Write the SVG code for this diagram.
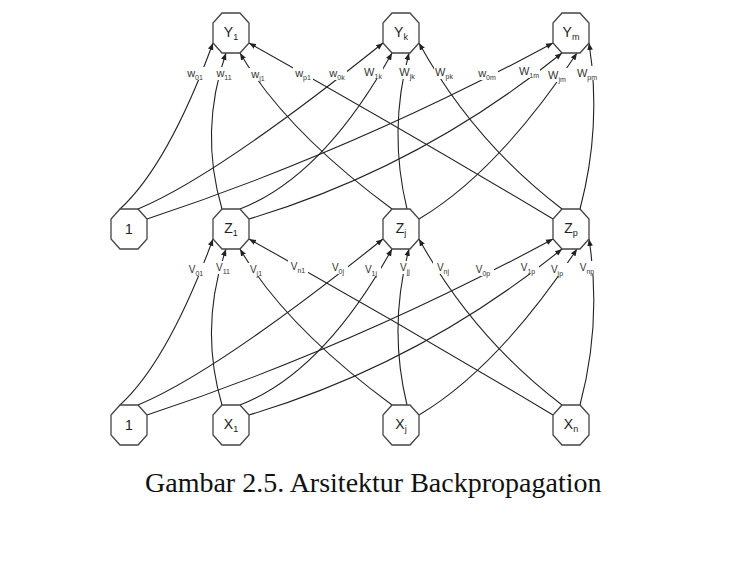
<svg xmlns="http://www.w3.org/2000/svg" xmlns:xlink="http://www.w3.org/1999/xlink" width="737" height="576" viewBox="0 0 737 576">
<style>
.node{fill:#fff;stroke:#444;stroke-width:1.3}
.nl{font-family:"Liberation Sans",Arial,sans-serif;font-size:14px;fill:#222;text-anchor:middle}
.ns{font-size:9px}
.edge{fill:none;stroke:#222;stroke-width:1.1;marker-end:url(#arr)}
.lb{fill:#fff}
.wl{font-family:"Liberation Sans",Arial,sans-serif;font-size:11px;fill:#333;text-anchor:middle}
.vl{font-family:"Liberation Sans",Arial,sans-serif;font-size:10px;fill:#333;text-anchor:middle}
.s{font-size:7px}
.cap{font-family:"Liberation Serif","Times New Roman",serif;font-size:28px;fill:#111}
</style>
<defs>
<marker id="arr" viewBox="0 0 10 10" refX="10" refY="5" markerWidth="7" markerHeight="7" markerUnits="userSpaceOnUse" orient="auto">
<path d="M0,1 L10,5 L0,9 z" fill="#222"/>
</marker>
<polygon id="oct" points="-9,-20 9,-20 18,-10 18,10 9,20 -9,20 -18,10 -18,-10"/>
</defs>
<rect width="737" height="576" fill="#fff"/>

<g id="connectors">
<g id="hidden-to-output">
<path class="edge" d="M120,209 Q168,165 213,43"/>
<path class="edge" d="M222,209 Q199,131 226,53"/>
<path class="edge" d="M392,209 Q285,130 240,53"/>
<path class="edge" d="M553,219 Q401,128 249,43"/>
<path class="edge" d="M138,209 Q217,176 383,43"/>
<path class="edge" d="M240,209 Q323,177 392,53"/>
<path class="edge" d="M407,209 Q388,131 409,53"/>
<path class="edge" d="M562,209 Q473,141 419,43"/>
<path class="edge" d="M147,219 Q355,150 553,43"/>
<path class="edge" d="M249,219 Q420,168 562,53"/>
<path class="edge" d="M419,219 Q498,172 577,53"/>
<path class="edge" d="M580,209 Q602,126 589,43"/>
</g>
<g id="input-to-hidden" transform="translate(0,196)">
<path class="edge" d="M120,209 Q168,165 213,43"/>
<path class="edge" d="M222,209 Q199,131 226,53"/>
<path class="edge" d="M392,209 Q285,130 240,53"/>
<path class="edge" d="M553,219 Q401,128 249,43"/>
<path class="edge" d="M138,209 Q217,176 383,43"/>
<path class="edge" d="M240,209 Q323,177 392,53"/>
<path class="edge" d="M407,209 Q388,131 409,53"/>
<path class="edge" d="M562,209 Q473,141 419,43"/>
<path class="edge" d="M147,219 Q355,150 553,43"/>
<path class="edge" d="M249,219 Q420,168 562,53"/>
<path class="edge" d="M419,219 Q498,172 577,53"/>
<path class="edge" d="M580,209 Q602,126 589,43"/>
</g>
</g>

<g id="weight-labels">
<rect class="lb" x="186" y="67" width="19" height="13"/><text class="wl" x="195" y="77">w<tspan class="s" dy="3">01</tspan></text>
<rect class="lb" x="215" y="67" width="19" height="13"/><text class="wl" x="224" y="77">w<tspan class="s" dy="3">11</tspan></text>
<rect class="lb" x="249" y="68" width="19" height="13"/><text class="wl" x="258" y="78">w<tspan class="s" dy="3">j1</tspan></text>
<rect class="lb" x="293" y="67" width="20" height="13"/><text class="wl" x="303" y="77">w<tspan class="s" dy="3">p1</tspan></text>
<rect class="lb" x="327" y="67" width="20" height="13"/><text class="wl" x="337" y="77">w<tspan class="s" dy="3">0k</tspan></text>
<rect class="lb" x="363" y="65" width="20" height="14"/><text class="wl" x="373" y="76">W<tspan class="s" dy="3">1k</tspan></text>
<rect class="lb" x="397" y="65" width="20" height="14"/><text class="wl" x="407" y="76">W<tspan class="s" dy="3">jk</tspan></text>
<rect class="lb" x="434" y="65" width="21" height="14"/><text class="wl" x="444" y="76">W<tspan class="s" dy="3">pk</tspan></text>
<rect class="lb" x="476" y="67" width="22" height="13"/><text class="wl" x="487" y="77">w<tspan class="s" dy="3">0m</tspan></text>
<rect class="lb" x="518" y="64" width="22" height="14"/><text class="wl" x="529" y="75">W<tspan class="s" dy="3">1m</tspan></text>
<rect class="lb" x="546" y="68" width="22" height="14"/><text class="wl" x="557" y="79">W<tspan class="s" dy="3">jm</tspan></text>
<rect class="lb" x="576" y="66" width="22" height="14"/><text class="wl" x="587" y="77">W<tspan class="s" dy="3">pm</tspan></text>

<rect class="lb" x="187" y="263" width="19" height="13"/><text class="vl" x="196" y="273">V<tspan class="s" dy="3">01</tspan></text>
<rect class="lb" x="214" y="261" width="19" height="13"/><text class="vl" x="223" y="271">V<tspan class="s" dy="3">11</tspan></text>
<rect class="lb" x="247" y="263" width="19" height="13"/><text class="vl" x="256" y="273">V<tspan class="s" dy="3">j1</tspan></text>
<rect class="lb" x="288" y="260" width="20" height="13"/><text class="vl" x="298" y="270">V<tspan class="s" dy="3">n1</tspan></text>
<rect class="lb" x="328" y="261" width="20" height="13"/><text class="vl" x="338" y="271">V<tspan class="s" dy="3">0j</tspan></text>
<rect class="lb" x="361" y="263" width="20" height="13"/><text class="vl" x="371" y="273">V<tspan class="s" dy="3">1j</tspan></text>
<rect class="lb" x="395" y="261" width="20" height="13"/><text class="vl" x="405" y="271">V<tspan class="s" dy="3">jj</tspan></text>
<rect class="lb" x="433" y="261" width="20" height="13"/><text class="vl" x="443" y="271">V<tspan class="s" dy="3">nj</tspan></text>
<rect class="lb" x="473" y="263" width="21" height="13"/><text class="vl" x="483" y="273">V<tspan class="s" dy="3">0p</tspan></text>
<rect class="lb" x="518" y="261" width="21" height="13"/><text class="vl" x="528" y="271">V<tspan class="s" dy="3">1p</tspan></text>
<rect class="lb" x="547" y="263" width="21" height="13"/><text class="vl" x="557" y="273">V<tspan class="s" dy="3">jp</tspan></text>
<rect class="lb" x="577" y="261" width="21" height="13"/><text class="vl" x="587" y="271">V<tspan class="s" dy="3">np</tspan></text>
</g>

<g id="Y1" transform="translate(231,33)"><use xlink:href="#oct" class="node"/><text class="nl" x="0" y="4">Y<tspan class="ns" dy="3">1</tspan></text></g>
<g id="Yk" transform="translate(401,33)"><use xlink:href="#oct" class="node"/><text class="nl" x="0" y="4">Y<tspan class="ns" dy="3">k</tspan></text></g>
<g id="Ym" transform="translate(571,33)"><use xlink:href="#oct" class="node"/><text class="nl" x="0" y="4">Y<tspan class="ns" dy="3">m</tspan></text></g>

<g id="H0" transform="translate(129,229)"><use xlink:href="#oct" class="node"/><text class="nl" x="0" y="5">1</text></g>
<g id="Z1" transform="translate(231,229)"><use xlink:href="#oct" class="node"/><text class="nl" x="0" y="4">Z<tspan class="ns" dy="3">1</tspan></text></g>
<g id="Zj" transform="translate(401,229)"><use xlink:href="#oct" class="node"/><text class="nl" x="0" y="4">Z<tspan class="ns" dy="3">j</tspan></text></g>
<g id="Zp" transform="translate(571,229)"><use xlink:href="#oct" class="node"/><text class="nl" x="0" y="4">Z<tspan class="ns" dy="3">p</tspan></text></g>

<g id="X0" transform="translate(129,425)"><use xlink:href="#oct" class="node"/><text class="nl" x="0" y="5">1</text></g>
<g id="X1" transform="translate(231,425)"><use xlink:href="#oct" class="node"/><text class="nl" x="0" y="4">X<tspan class="ns" dy="3">1</tspan></text></g>
<g id="Xj" transform="translate(401,425)"><use xlink:href="#oct" class="node"/><text class="nl" x="0" y="4">X<tspan class="ns" dy="3">j</tspan></text></g>
<g id="Xn" transform="translate(571,425)"><use xlink:href="#oct" class="node"/><text class="nl" x="0" y="4">X<tspan class="ns" dy="3">n</tspan></text></g>

<text id="caption" class="cap" x="145" y="492">Gambar 2.5. Arsitektur Backpropagation</text>
</svg>
